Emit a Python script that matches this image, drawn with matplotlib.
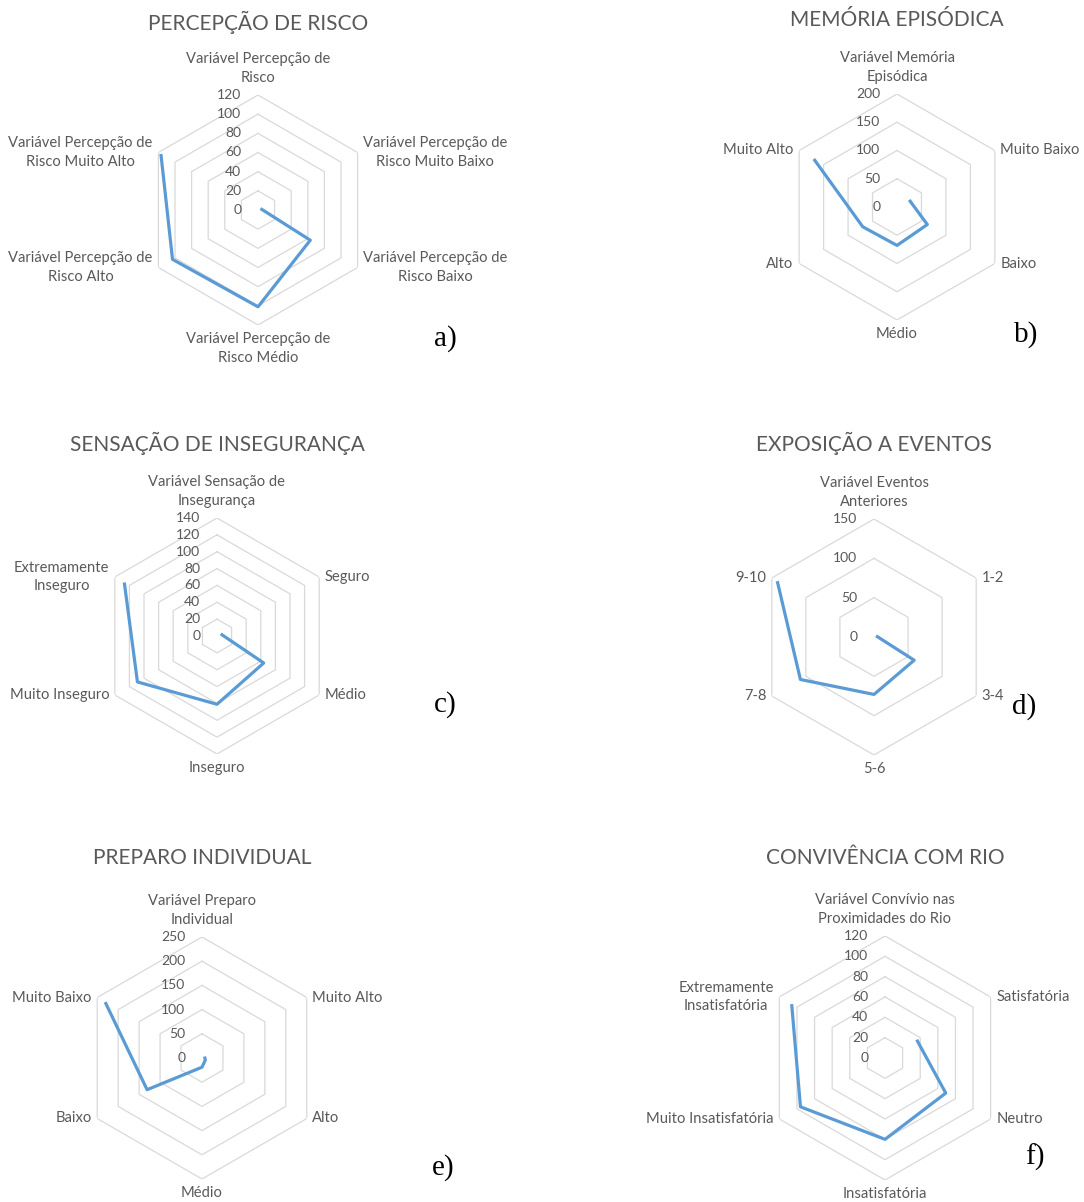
import numpy as np
import matplotlib
matplotlib.use("Agg")
import matplotlib.pyplot as plt

W, H = 1084, 1202
BLUE = "#5B9BD5"
GRID = "#D9D9D9"
TEXT = "#595959"
NAN = np.nan

# a) Percepção de risco
RISCO_TITLE = "PERCEPÇÃO DE RISCO"
RISCO_CATS = ["Variável Percepção de\nRisco", "Variável Percepção de\nRisco Muito Baixo",
              "Variável Percepção de\nRisco Baixo", "Variável Percepção de\nRisco Médio",
              "Variável Percepção de\nRisco Alto", "Variável Percepção de\nRisco Muito Alto"]
RISCO_VALUES = [NAN, 3, 63, 101, 103, 117]
RISCO_TICKS = [0, 20, 40, 60, 80, 100, 120]

# b) Memória episódica
MEMORIA_TITLE = "MEMÓRIA EPISÓDICA"
MEMORIA_CATS = ["Variável Memória\nEpisódica", "Muito Baixo", "Baixo", "Médio", "Alto", "Muito Alto"]
MEMORIA_VALUES = [NAN, 25, 62, 68, 70, 170]
MEMORIA_TICKS = [0, 50, 100, 150, 200]

# c) Sensação de insegurança
INSEG_TITLE = "SENSAÇÃO DE INSEGURANÇA"
INSEG_CATS = ["Variável Sensação de\nInsegurança", "Seguro", "Médio", "Inseguro",
              "Muito Inseguro", "Extremamente\nInseguro"]
INSEG_VALUES = [NAN, 5, 64, 81, 109, 127]
INSEG_TICKS = [0, 20, 40, 60, 80, 100, 120, 140]

# d) Exposição a eventos
EVENTOS_TITLE = "EXPOSIÇÃO A EVENTOS"
EVENTOS_CATS = ["Variável Eventos\nAnteriores", "1-2", "3-4", "5-6", "7-8", "9-10"]
EVENTOS_VALUES = [NAN, 3, 59, 73, 108, 142]
EVENTOS_TICKS = [0, 50, 100, 150]

# e) Preparo individual
PREPARO_TITLE = "PREPARO INDIVIDUAL"
PREPARO_CATS = ["Variável Preparo\nIndividual", "Muito Alto", "Alto", "Médio", "Baixo", "Muito Baixo"]
PREPARO_VALUES = [NAN, 6, 8, 19, 131, 231]
PREPARO_TICKS = [0, 50, 100, 150, 200, 250]

# f) Convivência com rio
RIO_TITLE = "CONVIVÊNCIA COM RIO"
RIO_CATS = ["Variável Convívio nas\nProximidades do Rio", "Satisfatória", "Neutro",
            "Insatisfatória", "Muito Insatisfatória", "Extremamente\nInsatisfatória"]
RIO_VALUES = [NAN, 36, 69, 80, 96, 106]
RIO_TICKS = [0, 20, 40, 60, 80, 100, 120]

# layout in pixels: centre x, centre y, radius, title y, letter x, letter baseline y
PANELS = [
    (RISCO_TITLE, RISCO_CATS, RISCO_VALUES, RISCO_TICKS, "a)", (258, 210, 115, 22, 434, 346)),
    (MEMORIA_TITLE, MEMORIA_CATS, MEMORIA_VALUES, MEMORIA_TICKS, "b)", (897, 207, 113, 20, 1014, 342)),
    (INSEG_TITLE, INSEG_CATS, INSEG_VALUES, INSEG_TICKS, "c)", (217, 636, 118, 443, 434, 712)),
    (EVENTOS_TITLE, EVENTOS_CATS, EVENTOS_VALUES, EVENTOS_TICKS, "d)", (874, 637, 118, 443, 1012, 714)),
    (PREPARO_TITLE, PREPARO_CATS, PREPARO_VALUES, PREPARO_TICKS, "e)", (202, 1058, 121, 858, 432, 1175)),
    (RIO_TITLE, RIO_CATS, RIO_VALUES, RIO_TICKS, "f)", (885, 1058, 122, 858, 1025, 1165)),
]

# label offsets (points) and alignment per spoke: top, upper-right, lower-right, bottom, lower-left, upper-left
LABEL_POS = [
    ((0, 7), "center", "bottom"),
    ((4, 0), "left", "center"),
    ((4, 0), "left", "center"),
    ((0, -5), "center", "top"),
    ((-4, 0), "right", "center"),
    ((-4, 0), "right", "center"),
]

plt.rcParams["font.family"] = ["Lato", "DejaVu Sans"]


def draw_radar(fig, title, cats, values, ticks, letter, layout):
    cx, cy, r, ty, lx, ly = layout
    ax = fig.add_axes([(cx - r) / W, 1 - (cy + r) / H, 2 * r / W, 2 * r / H], projection="polar")
    ax.set_theta_zero_location("N")
    ax.set_theta_direction(-1)
    n = len(cats)
    theta = np.arange(n) * 2 * np.pi / n
    rmax = ticks[-1]
    ax.set_ylim(0, rmax)
    ax.grid(False)
    ax.spines["polar"].set_visible(False)
    ax.set_xticks([])
    ax.set_yticks([])
    ax.patch.set_alpha(0)

    ring_theta = np.append(theta, theta[0])
    for t in ticks[1:]:
        ax.plot(ring_theta, [t] * (n + 1), color=GRID, lw=0.9, zorder=1)

    ax.plot(theta, values, color=BLUE, lw=2.3, solid_joinstyle="round",
            solid_capstyle="butt", zorder=3, clip_on=False)

    for t in ticks:
        ax.annotate(str(t), xy=(0, t), xytext=(-12, 0), textcoords="offset points",
                    ha="right", va="center", fontsize=10, color=TEXT, annotation_clip=False)

    for i, (cat, th) in enumerate(zip(cats, theta)):
        off, ha, va = LABEL_POS[i]
        ax.annotate(cat, xy=(th, rmax), xytext=off, textcoords="offset points",
                    ha=ha, va=va, multialignment="center", fontsize=10.6, color=TEXT,
                    linespacing=1.45, annotation_clip=False)

    fig.text(cx / W, 1 - ty / H, title, ha="center", va="center", fontsize=15, color=TEXT)
    fig.text(lx / W, 1 - ly / H, letter, ha="left", va="baseline", fontsize=21,
             family="Liberation Serif", color="black")


def main():
    fig = plt.figure(figsize=(W / 100, H / 100), dpi=100)
    fig.patch.set_facecolor("white")
    for title, cats, values, ticks, letter, layout in PANELS:
        draw_radar(fig, title, cats, values, ticks, letter, layout)
    fig.savefig("out.png", dpi=100, facecolor="white")
    plt.close(fig)


if __name__ == "__main__":
    main()
